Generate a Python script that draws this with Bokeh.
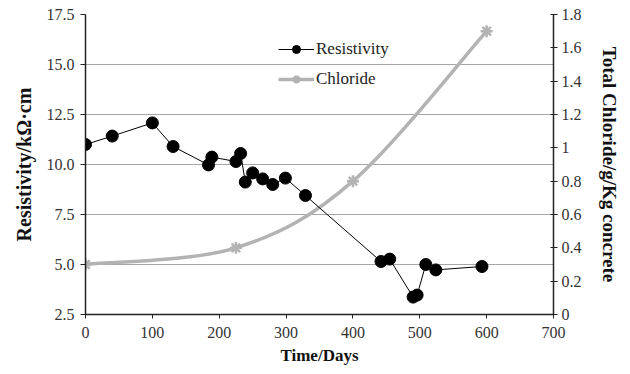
import math
from bokeh.plotting import figure
from bokeh.models import (Range1d, LinearAxis, FixedTicker, PrintfTickFormatter,
                          CustomJSTickFormatter, Legend, LegendItem, ColumnDataSource)
from bokeh.embed import file_html
from bokeh.resources import INLINE

# ---- data ----
res_days = [0, 40, 100, 131, 184, 189, 225, 232, 239, 250, 265, 280, 299, 329,
            442, 455, 490, 496, 509, 524, 593]
res_vals = [11.0, 11.42, 12.08, 10.9, 9.98, 10.37, 10.15, 10.55, 9.12, 9.58, 9.28,
            9.0, 9.32, 8.45, 5.15, 5.27, 3.37, 3.47, 5.0, 4.73, 4.9]
cl_days = [0, 225, 400, 600]
cl_vals = [0.3, 0.4, 0.8, 1.7]
x_ticks = [0, 100, 200, 300, 400, 500, 600, 700]
left_ticks = [2.5, 5.0, 7.5, 10.0, 12.5, 15.0, 17.5]
right_ticks = [0, 0.2, 0.4, 0.6, 0.8, 1.0, 1.2, 1.4, 1.6, 1.8]

FONT = "Times New Roman"
TICK_COLOR = "#333333"

p = figure(width=630, height=374, output_backend="svg", toolbar_location=None,
           x_range=Range1d(0, 700), y_range=Range1d(2.5, 17.5),
           min_border_left=85, min_border_right=77, min_border_top=14, min_border_bottom=60)
p.extra_y_ranges = {"cl": Range1d(0, 1.8)}
p.outline_line_color = None
p.background_fill_color = "white"

# grid
p.xgrid.visible = False
p.ygrid.ticker = FixedTicker(ticks=left_ticks)
p.ygrid.grid_line_color = "#a6a6a6"
p.ygrid.grid_line_width = 1

def style(ax):
    ax.axis_line_color = "#222222"
    ax.axis_line_width = 1.5
    ax.major_tick_line_color = "#222222"
    ax.major_tick_line_width = 1
    ax.minor_tick_line_color = None
    ax.major_label_text_font = FONT
    ax.major_label_text_font_size = "16px"
    ax.major_label_text_color = TICK_COLOR
    ax.axis_label_text_font = FONT
    ax.axis_label_text_font_style = "bold"
    ax.axis_label_text_font_size = "17px"
    ax.axis_label_text_color = "#111111"

xa = p.xaxis[0]
style(xa)
xa.ticker = FixedTicker(ticks=x_ticks)
xa.major_tick_in = 0
xa.major_tick_out = 4
xa.major_label_standoff = 8
xa.axis_label = "Time/Days"
xa.axis_label_standoff = 5

ya = p.yaxis[0]
style(ya)
ya.ticker = FixedTicker(ticks=left_ticks)
ya.formatter = PrintfTickFormatter(format="%.1f")
ya.major_tick_in = 0
ya.major_tick_out = 5
ya.major_label_standoff = 6
ya.axis_label = "Resistivity/kΩ·cm"
ya.axis_label_text_font_size = "20px"
ya.axis_label_standoff = 9

ra = LinearAxis(y_range_name="cl")
style(ra)
ra.ticker = FixedTicker(ticks=right_ticks)
ra.formatter = CustomJSTickFormatter(code="return String(Math.round(tick*10)/10);")
ra.major_tick_in = 3
ra.major_tick_out = 4
ra.major_label_standoff = 4
ra.axis_label = "Total Chloride/g/Kg concrete"
ra.axis_label_text_font_size = "19px"
ra.axis_label_standoff = 14
p.add_layout(ra, "right")

CL_COLOR = "#b3b3b3"

# chloride smooth curve (Catmull-Rom style Bezier through the data points)
n = len(cl_days)
x0, y0, x1, y1, cx0, cy0, cx1, cy1 = [], [], [], [], [], [], [], []
for i in range(n - 1):
    pm = (cl_days[max(i - 1, 0)], cl_vals[max(i - 1, 0)])
    pa = (cl_days[i], cl_vals[i])
    pb = (cl_days[i + 1], cl_vals[i + 1])
    pn = (cl_days[min(i + 2, n - 1)], cl_vals[min(i + 2, n - 1)])
    x0.append(pa[0]); y0.append(pa[1]); x1.append(pb[0]); y1.append(pb[1])
    cx0.append(pa[0] + (pb[0] - pm[0]) / 6); cy0.append(pa[1] + (pb[1] - pm[1]) / 6)
    cx1.append(pb[0] - (pn[0] - pa[0]) / 6); cy1.append(pb[1] - (pn[1] - pa[1]) / 6)
bsrc = ColumnDataSource(dict(x0=x0, y0=y0, x1=x1, y1=y1, cx0=cx0, cy0=cy0, cx1=cx1, cy1=cy1))
p.bezier(x0="x0", y0="y0", x1="x1", y1="y1", cx0="cx0", cy0="cy0", cx1="cx1", cy1="cy1",
         source=bsrc, line_color=CL_COLOR, line_width=3.5, y_range_name="cl")
cl_pts = p.scatter(cl_days, cl_vals, marker="asterisk", size=12, line_color=CL_COLOR,
                   line_width=2.5, y_range_name="cl")
# single-point line: invisible in the plot, only supplies the legend's line sample
cl_leg_line = p.line(cl_days[:1], cl_vals[:1], line_color=CL_COLOR, line_width=3.5,
                     y_range_name="cl")

# resistivity
r_line = p.line(res_days, res_vals, line_color="black", line_width=1)
r_pts = p.scatter(res_days, res_vals, marker="circle", size=12, fill_color="black",
                  line_color="black")

legend = Legend(items=[LegendItem(label="Resistivity", renderers=[r_line, r_pts]),
                       LegendItem(label="Chloride", renderers=[cl_leg_line, cl_pts])],
                location=(193, 225))
legend.background_fill_alpha = 0
legend.border_line_color = None
legend.label_text_font = FONT
legend.label_text_font_size = "17px"
legend.label_text_color = "#222222"
legend.glyph_width = 36
legend.glyph_height = 20
legend.spacing = 10
legend.label_standoff = 2
legend.padding = 0
legend.margin = 0
p.add_layout(legend, "center")

open("out.html", "w").write(file_html(p, INLINE))
